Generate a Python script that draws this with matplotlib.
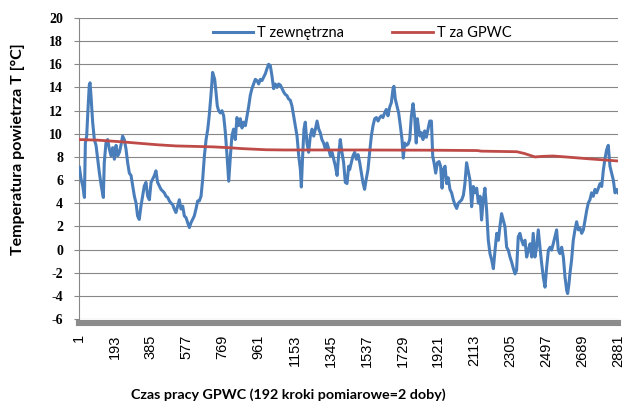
"""Temperatura zewnętrzna i za GPWC w czasie pracy (wykres liniowy w stylu Excela)."""

import matplotlib
matplotlib.use("Agg")
import matplotlib.pyplot as plt
import numpy as np

# --- dane ---------------------------------------------------------------------
outdoor_step = [
    3, 12, 21, 30, 35, 42, 49, 56, 60, 65, 74, 83, 92, 101, 110, 120, 131, 136, 145,
    154, 163, 172, 181, 190, 199, 208, 217, 225, 234, 243, 252, 261, 270, 279, 288,
    297, 306, 314, 323, 332, 341, 350, 359, 368, 377, 386, 395, 404, 412, 421, 430,
    439, 448, 457, 466, 475, 484, 493, 501, 510, 519, 528, 537, 546, 555, 564, 573,
    582, 591, 599, 608, 617, 626, 635, 644, 653, 662, 671, 680, 689, 697, 706, 715,
    726, 733, 740, 747, 756, 765, 774, 783, 792, 801, 810, 818, 827, 836, 845, 854,
    863, 872, 881, 890, 899, 908, 916, 925, 934, 943, 952, 961, 970, 979, 988, 997,
    1005, 1014, 1023, 1032, 1041, 1050, 1059, 1068, 1077, 1086, 1095, 1103, 1112,
    1121, 1130, 1139, 1148, 1157, 1166, 1175, 1184, 1189, 1196, 1203, 1210, 1219,
    1228, 1237, 1246, 1255, 1264, 1273, 1282, 1290, 1299, 1308, 1317, 1326, 1335,
    1344, 1353, 1362, 1371, 1380, 1388, 1397, 1406, 1415, 1424, 1433, 1442, 1447,
    1456, 1465, 1474, 1483, 1492, 1501, 1510, 1518, 1527, 1536, 1545, 1554, 1563,
    1572, 1581, 1590, 1599, 1608, 1616, 1625, 1634, 1643, 1652, 1661, 1670, 1679,
    1684, 1691, 1700, 1709, 1718, 1727, 1734, 1741, 1750, 1759, 1768, 1777, 1786,
    1795, 1803, 1809, 1816, 1823, 1830, 1839, 1848, 1857, 1866, 1875, 1884, 1891,
    1898, 1907, 1916, 1925, 1933, 1941, 1948, 1957, 1965, 1974, 1983, 1992, 2001,
    2010, 2019, 2028, 2037, 2046, 2055, 2063, 2072, 2081, 2090, 2099, 2108, 2117,
    2126, 2135, 2144, 2152, 2161, 2170, 2179, 2188, 2197, 2206, 2215, 2224, 2233,
    2242, 2250, 2259, 2268, 2277, 2286, 2295, 2304, 2313, 2322, 2331, 2339, 2348,
    2357, 2366, 2375, 2384, 2393, 2402, 2411, 2420, 2428, 2437, 2446, 2455, 2464,
    2473, 2482, 2491, 2500, 2509, 2518, 2526, 2535, 2544, 2553, 2562, 2571, 2580,
    2589, 2598, 2607, 2612, 2619, 2624, 2633, 2642, 2651, 2660, 2669, 2678, 2687,
    2696, 2705, 2714, 2722, 2731, 2740, 2749, 2758, 2767, 2776, 2785, 2794, 2803,
    2811, 2820, 2829, 2838, 2847, 2856, 2865, 2874, 2881,
]
outdoor_temp = [
    7.1, 6.1, 5.5, 4.5, 9.2, 9.8, 12.1, 14.2, 14.4, 13.3, 11.0, 9.5, 9.0, 7.8, 6.6, 5.5,
    4.5, 7.5, 9.2, 9.5, 8.7, 8.1, 8.8, 7.8, 9.0, 8.1, 8.4, 9.0, 9.8, 9.5, 8.7, 7.5, 6.6,
    6.4, 5.5, 4.6, 4.0, 2.9, 2.6, 3.75, 4.6, 5.5, 5.8, 4.6, 4.3, 5.8, 6.1, 6.4, 6.8, 5.8,
    5.5, 5.2, 5.05, 4.9, 4.6, 4.5, 4.2, 4.0, 3.9, 3.5, 3.2, 3.75, 4.3, 3.5, 3.75, 2.9,
    2.75, 2.3, 1.9, 2.3, 2.6, 2.9, 3.5, 4.2, 4.2, 4.6, 6.1, 8.1, 9.5, 10.4, 11.6, 13.3,
    15.3, 14.7, 13.6, 12.4, 12.0, 11.8, 12.0, 11.55, 10.1, 8.1, 5.9, 8.1, 9.8, 10.4, 9.5,
    11.4, 10.7, 11.3, 10.5, 11.0, 10.7, 11.55, 12.4, 13.3, 13.9, 14.3, 14.7, 14.6, 14.3,
    14.7, 14.6, 14.9, 15.2, 15.6, 16.0, 15.9, 15.0, 13.9, 14.3, 14.0, 14.3, 14.2, 13.9,
    13.6, 13.4, 13.3, 13.0, 12.9, 12.4, 11.55, 10.7, 9.8, 8.1, 6.9, 5.4, 8.1, 10.4, 11.0,
    9.2, 8.4, 9.8, 10.4, 9.8, 10.4, 11.1, 10.4, 10.1, 9.5, 9.2, 8.7, 9.2, 8.7, 8.1, 8.4,
    7.8, 7.2, 6.4, 8.1, 9.5, 8.4, 7.5, 5.8, 5.7, 7.2, 6.9, 7.5, 8.1, 8.4, 7.8, 8.2, 7.5,
    6.6, 5.8, 5.2, 6.1, 6.9, 8.4, 9.8, 10.7, 11.3, 11.4, 11.1, 11.4, 11.55, 11.4, 11.8,
    12.1, 11.55, 12.3, 12.7, 13.9, 14.1, 13.0, 12.4, 11.8, 10.7, 9.5, 7.9, 9.2, 9.0, 9.1,
    9.5, 11.55, 12.6, 11.3, 9.2, 11.3, 10.4, 9.8, 10.1, 9.5, 10.25, 9.7, 10.4, 11.1, 11.1,
    8.05, 7.5, 6.6, 7.5, 7.6, 7.2, 5.3, 6.9, 7.2, 5.7, 6.2, 5.2, 4.9, 4.3, 3.85, 3.55, 4.0,
    4.15, 4.3, 4.7, 5.7, 7.5, 6.75, 6.0, 3.7, 5.45, 4.9, 5.3, 4.0, 4.6, 2.55, 4.3, 5.3,
    3.4, 0.8, -0.35, -0.9, -1.65, -0.05, 1.4, 0.8, 1.97, 3.1, 2.55, 1.97, 0.2, -0.05,
    -0.65, -1.1, -1.65, -2.1, -1.8, 1.1, 1.4, 0.8, 0.4, 0.8, -0.65, -0.05, 0.5, -0.65,
    1.4, -0.65, 0.2, 1.7, 0.2, -1.2, -2.4, -3.25, -1.5, -0.05, 0.2, -0.05, 0.5, 1.1, 1.7,
    -0.05, -0.35, 0.2, -0.65, -2.4, -3.55, -3.8, -2.95, -2.1, -0.9, 0.8, 1.7, 2.4, 1.7,
    1.85, 1.4, 1.7, 2.55, 3.4, 4.0, 4.3, 4.9, 4.6, 5.2, 4.9, 5.3, 5.7, 5.45, 6.9, 7.8,
    8.6, 9.0, 7.2, 6.6, 6.0, 4.9, 5.2, 4.9,
]

gpwc_step = [1, 100, 234, 306, 420, 519, 715, 800, 870, 1000, 1100, 1500, 1900, 2130,
             2150, 2340, 2380, 2437, 2480, 2533, 2600, 2715, 2822, 2881]
gpwc_temp = [9.5, 9.45, 9.3, 9.2, 9.05, 8.95, 8.87, 8.8, 8.72, 8.62, 8.6, 8.6, 8.58, 8.55,
             8.5, 8.45, 8.3, 8.0, 8.05, 8.08, 8.0, 7.85, 7.72, 7.65]

x_ticks = list(range(1, 2882, 192))
y_ticks = list(range(-6, 21, 2))

BLUE = "#4A7EBB"
RED = "#BE4B48"
GRID = "#878787"

fig = plt.figure(figsize=(6.25, 4.08), dpi=100)
ax = fig.add_axes([79 / 625, 1 - 319 / 408, 539 / 625, 301 / 408])

# spine position first: set_position resets the ticks
for side in ("top", "right"):
    ax.spines[side].set_visible(False)
ax.spines["bottom"].set_position(("outward", 3))
ax.spines["bottom"].set_color("#8C8C8C")
ax.spines["bottom"].set_linewidth(4.4)
ax.spines["left"].set_color(GRID)
ax.spines["left"].set_linewidth(0.8)

ax.plot(outdoor_step, outdoor_temp, color=BLUE, lw=2.2, solid_joinstyle="round",
        label="T zewnętrzna", zorder=3)
ax.plot(gpwc_step, gpwc_temp, color=RED, lw=2.0, label="T za GPWC", zorder=3)

ax.set_xlim(1, 2881)
ax.set_ylim(-6, 20)
ax.set_yticks(y_ticks)
ax.set_xticks(x_ticks)
ax.set_xticklabels([str(t) for t in x_ticks], rotation=90, family="Liberation Sans",
                   fontsize=10.5, va="top", ha="center")
ax.set_yticklabels([str(t) for t in y_ticks], family="Liberation Serif",
                   fontweight="bold", fontsize=10)
ax.grid(axis="y", color=GRID, lw=0.8)
ax.set_axisbelow(True)
ax.tick_params(axis="y", length=3.5, color=GRID, width=0.8, pad=8)
ax.tick_params(axis="x", length=0, pad=8)

fig.text(18 / 625, 1 - 149 / 408, "Temperatura powietrza T [°C]", rotation=90,
         ha="center", va="center", family="Lato", fontweight="bold", fontsize=11.5)
fig.text(288 / 625, 1 - 395 / 408, "Czas pracy GPWC (192 kroki pomiarowe=2 doby)",
         ha="center", va="center", family="Lato", fontweight="bold", fontsize=10.3)

ax.legend(loc="center", bbox_to_anchor=(362 / 625, 1 - 33 / 408),
          bbox_transform=fig.transFigure, ncol=2, frameon=False,
          prop={"family": "Lato", "size": 10.5}, handlelength=2.8,
          handletextpad=0.25, columnspacing=3.3)

fig.savefig("out.png", dpi=100)
